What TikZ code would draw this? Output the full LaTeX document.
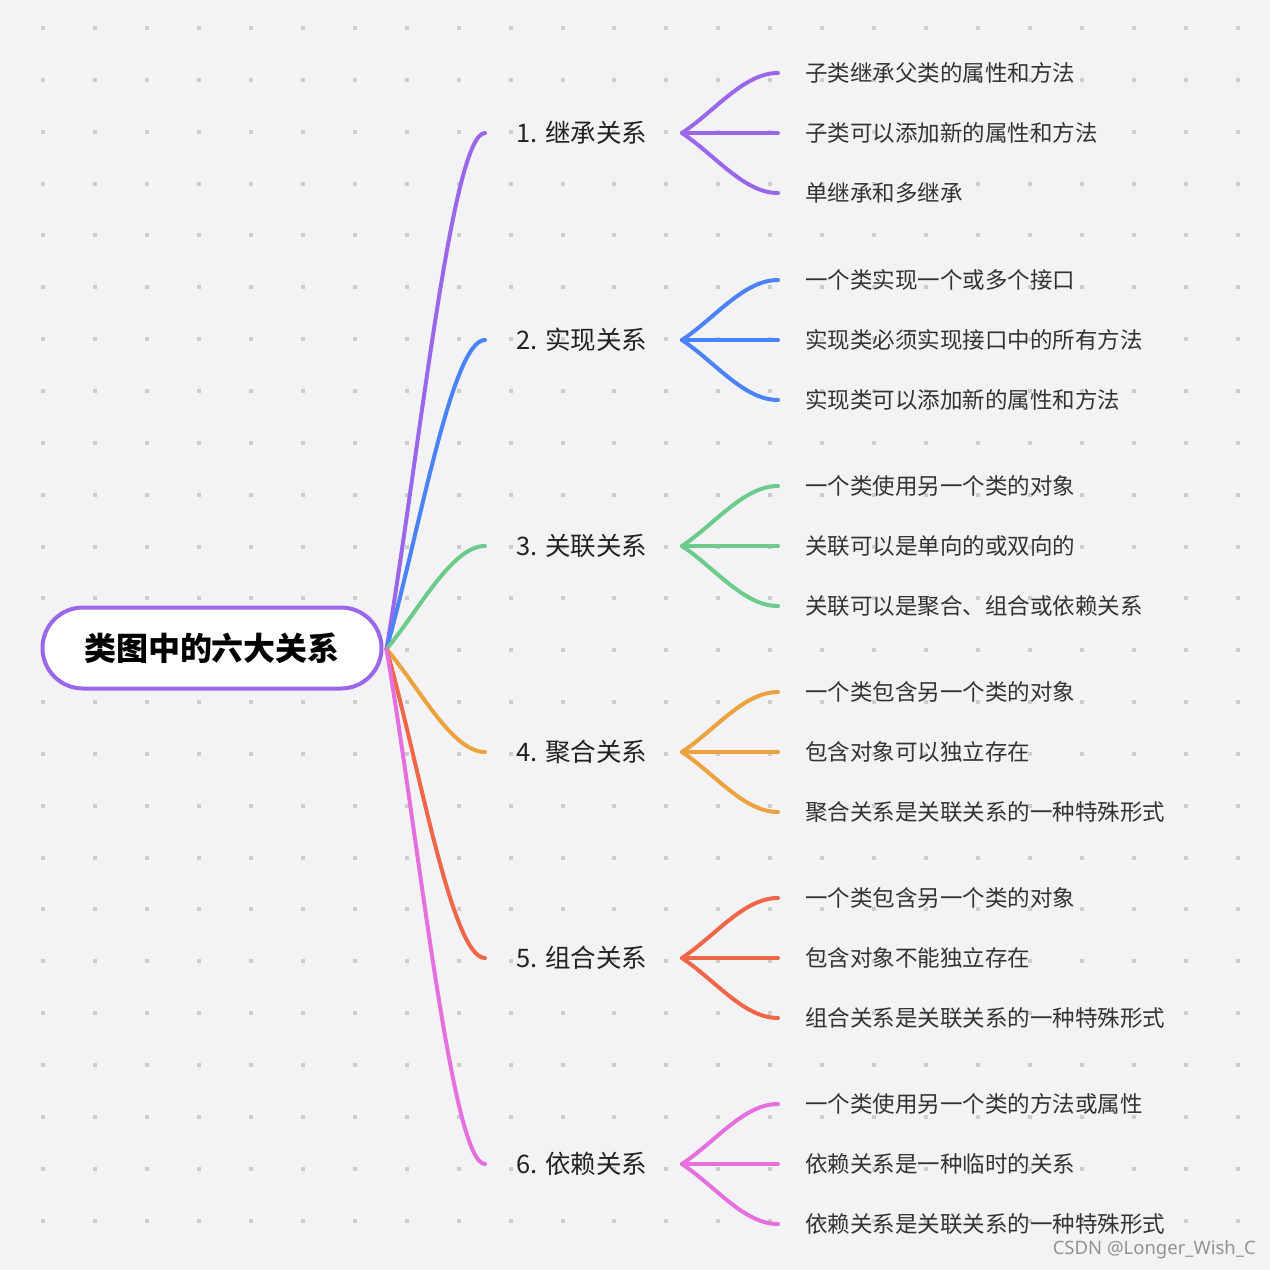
\documentclass[tikz,border=0pt]{standalone}
\usepackage{fontspec}
\setmainfont{Noto Sans CJK SC}
\newfontfamily\wmfont{Noto Sans}
\usetikzlibrary{shapes.misc}
\definecolor{bg}{HTML}{F3F3F5}
\definecolor{dotc}{HTML}{CDCDCF}
\definecolor{col1}{HTML}{9A67EA}
\definecolor{col2}{HTML}{4B82F7}
\definecolor{col3}{HTML}{6CCB8B}
\definecolor{col4}{HTML}{EBA23F}
\definecolor{col5}{HTML}{EF6748}
\definecolor{col6}{HTML}{E570DD}
\definecolor{leaftxt}{HTML}{333333}
\definecolor{brtxt}{HTML}{222222}
\tikzset{
  rootbox/.style={rounded rectangle, draw=col1, fill=white, line width=4pt,
    minimum width=339pt, minimum height=81pt, inner sep=0pt,
    font=\fontsize{32}{38}\selectfont\bfseries, text=black},
  brlabel/.style={anchor=west, inner sep=0pt, font=\fontsize{25.5}{30}\selectfont, text=brtxt},
  leaflabel/.style={anchor=west, inner sep=0pt, font=\fontsize{22.5}{27}\selectfont, text=leaftxt},
  conn/.style={line width=4pt, line cap=round}
}
\begin{document}
\begin{tikzpicture}[x=1pt,y=-1pt]
\fill[bg] (0,0) rectangle (1270,1270);
\useasboundingbox (0,0) rectangle (1270,1270);
\foreach \i in {0,...,23}{
  \foreach \j in {0,...,23}{
    \fill[dotc] ({41+51.95*\i},{26+51.85*\j}) rectangle ++(4,4);
  }
}
% root
\node[rootbox] (root) at (212,648) {类图中的六大关系};
\coordinate (hub) at ([xshift=3pt,yshift=-1pt]root.east);
% branch labels
\node[brlabel] (b1) at (516,133) {1. 继承关系};
\node[brlabel] (b2) at (516,340) {2. 实现关系};
\node[brlabel] (b3) at (516,546) {3. 关联关系};
\node[brlabel] (b4) at (516,752) {4. 聚合关系};
\node[brlabel] (b5) at (516,958) {5. 组合关系};
\node[brlabel] (b6) at (516,1164) {6. 依赖关系};
% leaves
\node[leaflabel] (l11) at (805,73) {子类继承父类的属性和方法};
\node[leaflabel] (l12) at (805,133) {子类可以添加新的属性和方法};
\node[leaflabel] (l13) at (805,193) {单继承和多继承};
\node[leaflabel] (l21) at (805,280) {一个类实现一个或多个接口};
\node[leaflabel] (l22) at (805,340) {实现类必须实现接口中的所有方法};
\node[leaflabel] (l23) at (805,400) {实现类可以添加新的属性和方法};
\node[leaflabel] (l31) at (805,486) {一个类使用另一个类的对象};
\node[leaflabel] (l32) at (805,546) {关联可以是单向的或双向的};
\node[leaflabel] (l33) at (805,606) {关联可以是聚合、组合或依赖关系};
\node[leaflabel] (l41) at (805,692) {一个类包含另一个类的对象};
\node[leaflabel] (l42) at (805,752) {包含对象可以独立存在};
\node[leaflabel] (l43) at (805,812) {聚合关系是关联关系的一种特殊形式};
\node[leaflabel] (l51) at (805,898) {一个类包含另一个类的对象};
\node[leaflabel] (l52) at (805,958) {包含对象不能独立存在};
\node[leaflabel] (l53) at (805,1018) {组合关系是关联关系的一种特殊形式};
\node[leaflabel] (l61) at (805,1104) {一个类使用另一个类的方法或属性};
\node[leaflabel] (l62) at (805,1164) {依赖关系是一种临时的关系};
\node[leaflabel] (l63) at (805,1224) {依赖关系是关联关系的一种特殊形式};
% connectors
\foreach \n/\by in {1/133,2/340,3/546,4/752,5/958,6/1164}{
  \coordinate (in\n) at ([xshift=-31pt]b\n.west);
  \coordinate (out\n) at ([xshift=166pt]b\n.west);
  \pgfmathsetmacro\dd{0.38*(\by-650)}
  \draw[conn, col\n] (hub) .. controls +(33,\dd) and +(-33,0) .. (in\n);
  \foreach \k/\ee in {1/-22.8,2/0,3/22.8}{
    \coordinate (e\n\k) at ([xshift=-27pt]l\n\k.west);
    \draw[conn, col\n] (out\n) .. controls +(34,\ee) and +(-34,0) .. (e\n\k);
  }
}
\node[anchor=east, inner sep=0pt, font=\wmfont\fontsize{18.5}{22}\selectfont, text=gray!85] (wm) at (1256,1250) {CSDN @Longer\_Wish\_C};
\end{tikzpicture}
\end{document}
